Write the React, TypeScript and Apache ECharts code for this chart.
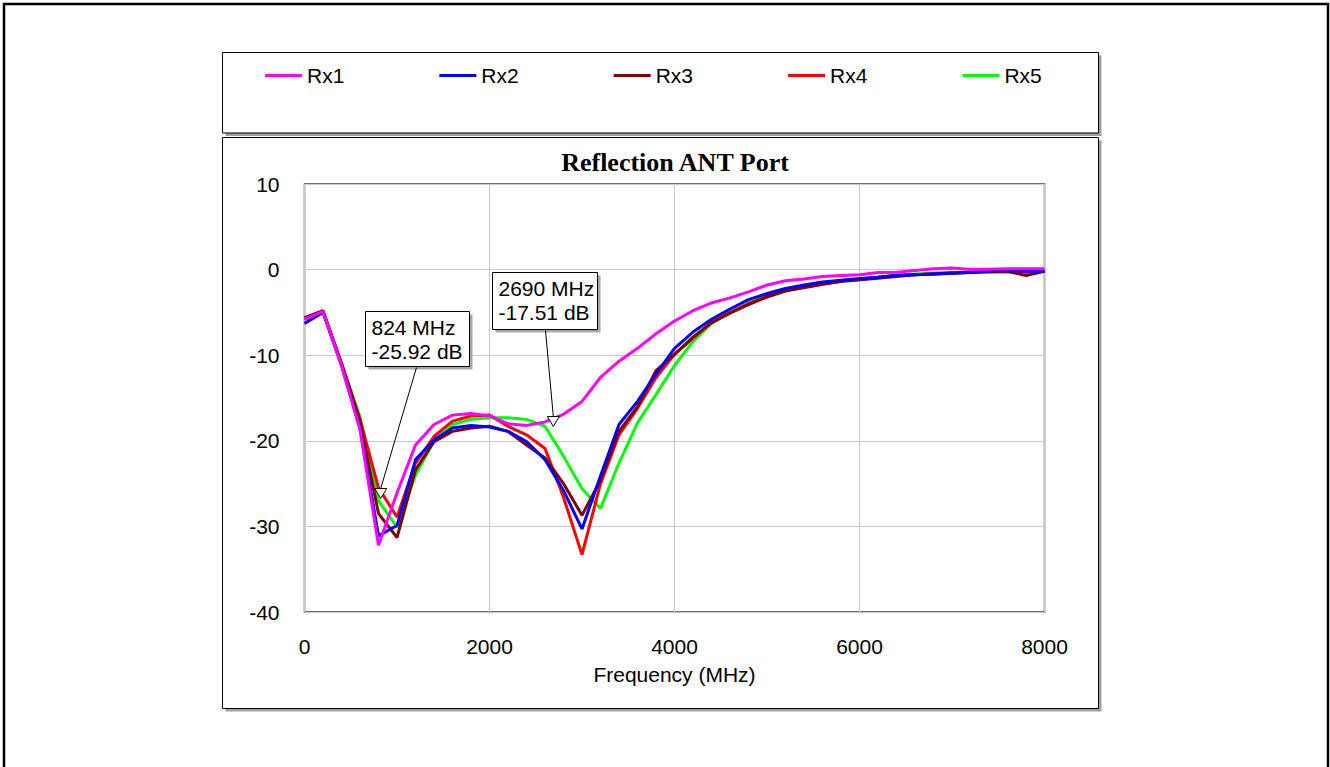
import React, { useEffect, useRef } from 'react';
import * as echarts from 'echarts';

const freqMHz = [0, 200, 400, 600, 800, 1000, 1200, 1400, 1600, 1800, 2000, 2200, 2400, 2600, 2800, 3000, 3200, 3400, 3600, 3800, 4000, 4200, 4400, 4600, 4800, 5000, 5200, 5400, 5600, 5800, 6000, 6200, 6400, 6600, 6800, 7000, 7200, 7400, 7600, 7800, 8000];

const rx1 = [-5.8, -4.9, -11.2, -18.7, -32.2, -26.1, -20.5, -18.1, -17.0, -16.8, -17.1, -18.0, -18.2, -17.8, -16.9, -15.4, -12.6, -10.7, -9.2, -7.5, -6.0, -4.8, -3.9, -3.3, -2.6, -1.8, -1.3, -1.1, -0.8, -0.7, -0.6, -0.35, -0.3, -0.1, 0.1, 0.2, 0.0, 0.05, 0.1, 0.1, 0.1];
const rx2 = [-6.3, -5.0, -11.2, -18.5, -31.1, -29.9, -22.2, -19.9, -18.5, -18.2, -18.4, -18.9, -20.1, -22.2, -25.8, -30.3, -24.1, -18.1, -15.4, -12.2, -9.2, -7.3, -5.8, -4.6, -3.5, -2.8, -2.2, -1.8, -1.45, -1.25, -1.05, -0.9, -0.65, -0.6, -0.5, -0.4, -0.3, -0.15, -0.1, -0.2, -0.2];
const rx3 = [-5.6, -4.8, -11.0, -17.8, -28.5, -31.3, -23.4, -20.1, -18.9, -18.5, -18.3, -18.9, -20.5, -22.0, -25.0, -28.7, -24.6, -18.9, -16.0, -11.8, -9.9, -7.9, -6.2, -5.1, -4.1, -3.2, -2.5, -2.1, -1.7, -1.4, -1.2, -1.0, -0.8, -0.6, -0.5, -0.45, -0.35, -0.25, -0.2, -0.7, -0.2];
const rx4 = [-5.8, -4.9, -11.0, -17.5, -25.5, -28.9, -22.6, -19.5, -17.7, -17.1, -17.0, -18.3, -19.3, -20.9, -26.6, -33.3, -25.0, -19.3, -16.2, -12.6, -9.9, -8.0, -6.2, -5.0, -4.0, -3.1, -2.4, -2.1, -1.7, -1.3, -1.2, -0.9, -0.7, -0.6, -0.5, -0.4, -0.3, -0.2, -0.15, -0.3, -0.2];
const rx5 = [-5.8, -4.9, -10.9, -17.2, -27.0, -30.1, -24.0, -20.0, -18.1, -17.5, -17.3, -17.3, -17.5, -18.3, -21.8, -25.6, -27.9, -22.6, -17.9, -14.6, -11.2, -8.4, -6.3, -5.0, -3.9, -3.0, -2.3, -1.9, -1.6, -1.3, -1.1, -0.9, -0.7, -0.5, -0.4, -0.3, -0.3, -0.3, -0.3, -0.3, -0.2];

const seriesNames = ['Rx1', 'Rx2', 'Rx3', 'Rx4', 'Rx5'];
const seriesValues = [rx1, rx2, rx3, rx4, rx5];
const seriesColors = ['#ff00ff', '#0000ff', '#800000', '#ff0000', '#00ff00'];

const chartTitle = 'Reflection ANT Port';
const xAxisName = 'Frequency (MHz)';

// markers: frequency, value, label lines
const markerFreqs = [824, 2690];
const markerValues = [-25.92, -17.51];
const markerLabels = [['824 MHz', '-25.92 dB'], ['2690 MHz', '-17.51 dB']];
// layout of marker callout boxes, relative to the marker point
const markerBoxLayout = [
  { dx: -15.5, dy: -180.5, w: 104, h: 55, lineX: 51 },
  { dx: -61, dy: -147.5, w: 105, h: 57, lineX: 53 },
];

const SANS = 'Liberation Sans, Arial, sans-serif';
const SERIF = 'Liberation Serif, Times New Roman, serif';

export default function App() {
  const ref = useRef<HTMLDivElement>(null);
  useEffect(() => {
    if (!ref.current) return;
    const chart = echarts.init(ref.current, null, { renderer: 'svg' });
    const option: any = {
      animation: false,
      backgroundColor: '#ffffff',
      title: {
        text: chartTitle,
        left: 670,
        textAlign: 'center',
        top: 144,
        textStyle: { fontFamily: SERIF, fontWeight: 'bold', fontSize: 26, color: '#000' },
      },
      legend: {
        data: seriesNames,
        left: 260,
        top: 60,
        icon: 'rect',
        itemWidth: 37,
        itemHeight: 3,
        itemGap: 95,
        textStyle: { fontFamily: SANS, fontSize: 21, color: '#000' },
      },
      grid: {
        left: 304.5,
        top: 184,
        width: 740,
        height: 428,
        show: true,
        borderColor: '#404040',
        borderWidth: 1.5,
        backgroundColor: 'transparent',
        containLabel: false,
      },
      xAxis: {
        type: 'value',
        min: 0,
        max: 8000,
        interval: 2000,
        name: xAxisName,
        nameLocation: 'middle',
        nameGap: 52,
        nameTextStyle: { fontFamily: SANS, fontSize: 21, color: '#000' },
        axisLine: { show: false },
        axisTick: { show: false },
        axisLabel: { fontFamily: SANS, fontSize: 21, color: '#000', margin: 24, formatter: (v: number) => String(v) },
        splitLine: { show: true, lineStyle: { color: '#c8c8c8', width: 1 } },
      },
      yAxis: {
        type: 'value',
        min: -40,
        max: 10,
        interval: 10,
        axisLine: { show: false },
        axisTick: { show: false },
        axisLabel: { fontFamily: SANS, fontSize: 21, color: '#000', margin: 25, formatter: (v: number) => String(v) },
        splitLine: { show: true, lineStyle: { color: '#c8c8c8', width: 1 } },
      },
      series: seriesNames.map((name, i) => ({
        name,
        type: 'line',
        symbol: 'none',
        z: 10 - i,
        color: seriesColors[i],
        itemStyle: { color: seriesColors[i] },
        lineStyle: { color: seriesColors[i], width: 3 },
        data: freqMHz.map((f, k) => [f, seriesValues[i][k]]),
      })),
    };
    chart.setOption(option);

    const boxGraphic = (x: number, y: number, w: number, h: number, lw: number, sh: number) => [
      { type: 'rect', z: -20, shape: { x: x + sh, y: y + sh, width: w, height: h }, style: { fill: '#a0a0a0' } },
      { type: 'rect', z: -19, shape: { x, y, width: w, height: h }, style: { fill: '#fff', stroke: '#000', lineWidth: lw } },
    ];

    const graphics: any[] = [
      { type: 'rect', z: -30, shape: { x: 4, y: 4, width: 1324, height: 800 }, style: { fill: '#fff', stroke: '#000', lineWidth: 2.5 } },
      ...boxGraphic(222.5, 52.5, 876, 80.5, 1, 3),
      ...boxGraphic(222.5, 137.5, 876, 571, 1, 3),
    ];

    markerFreqs.forEach((f, i) => {
      const p = chart.convertToPixel({ gridIndex: 0 }, [f, markerValues[i]]) as number[];
      const L = markerBoxLayout[i];
      const bx = Math.round(p[0] + L.dx) + 0.5;
      const by = Math.round(p[1] + L.dy) + 0.5;
      graphics.push(
        { type: 'rect', z: 50, shape: { x: bx + 3, y: by + 3, width: L.w, height: L.h }, style: { fill: '#a8a8a8' } },
        { type: 'rect', z: 51, shape: { x: bx, y: by, width: L.w, height: L.h }, style: { fill: '#fff', stroke: '#000', lineWidth: 1 } },
        { type: 'text', z: 52, x: bx + 6, y: by + 16, style: { text: markerLabels[i][0], fontFamily: SANS, fontSize: 21, fill: '#000', verticalAlign: 'middle', align: 'left' } },
        { type: 'text', z: 52, x: bx + 6, y: by + 39.5, style: { text: markerLabels[i][1], fontFamily: SANS, fontSize: 21, fill: '#000', verticalAlign: 'middle', align: 'left' } },
        { type: 'line', z: 52, shape: { x1: bx + L.lineX, y1: by + L.h + 1, x2: p[0], y2: p[1] - 3 }, style: { stroke: '#000', lineWidth: 1 } },
        { type: 'polygon', z: 53, shape: { points: [[p[0] - 6, p[1] - 3], [p[0] + 6, p[1] - 3], [p[0], p[1] + 7]] }, style: { fill: '#fff', stroke: '#000', lineWidth: 1 } },
      );
    });

    chart.setOption({ graphic: graphics });
    return () => chart.dispose();
  }, []);
  return <div ref={ref} style={{ position: 'fixed', left: 0, top: 0, width: 1330, height: 767 }} />;
}
